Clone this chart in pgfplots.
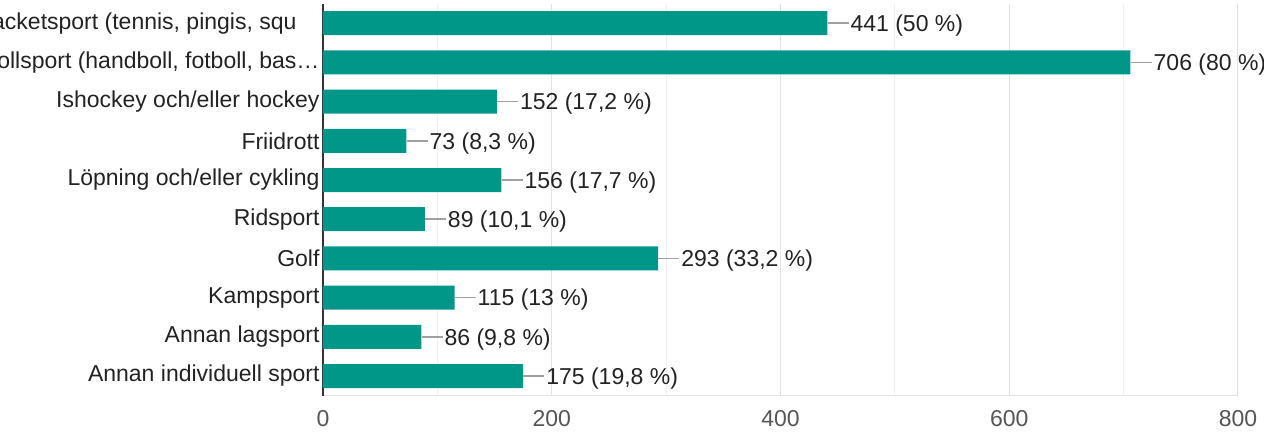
\documentclass[border=0pt]{standalone}
\usepackage{pgfplots}
\pgfplotsset{compat=1.18}
\usepackage{fontspec}
\setmainfont{Liberation Sans}
\definecolor{barteal}{HTML}{009688}
\definecolor{txt}{HTML}{222222}
\definecolor{ticktxt}{HTML}{555555}
\definecolor{conn}{HTML}{A0A0A0}
\definecolor{gridmaj}{HTML}{E2E2E2}
\definecolor{gridmin}{HTML}{F0F0F0}
\definecolor{axdark}{HTML}{333333}
\begin{document}
\begin{tikzpicture}[font=\fontsize{23}{27}\selectfont]
\begin{axis}[
  at={(323pt,45.4pt)}, anchor=south west,
  scale only axis, width=915pt, height=392pt,
  xbar, bar width=24pt,
  xmin=0, xmax=800, ymin=-0.5, ymax=9.5,
  y dir=reverse,
  xtick={0,200,400,600,800},
  minor xtick={100,300,500,700},
  ytick={0,...,9},
  yticklabels={{Racketsport (tennis, pingis, squ\hspace*{23pt}},
    {Bollsport (handboll, fotboll, bas…},
    {Ishockey och/eller hockey},
    {Friidrott},
    {Löpning och/eller cykling},
    {Ridsport},
    {Golf},
    {Kampsport},
    {Annan lagsport},
    {Annan individuell sport}},
  axis lines=left,
  axis line style={-},
  x axis line style={draw=gridmaj, line width=1pt},
  y axis line style={draw=axdark, line width=1.5pt},
  major tick length=0pt, minor tick length=0pt,
  xmajorgrids, xminorgrids,
  major grid style={draw=gridmaj, line width=1pt},
  minor grid style={draw=gridmin, line width=1pt},
  tick label style={font=\fontsize{23}{27}\selectfont},
  yticklabel style={text=txt},
  xticklabel style={text=ticktxt, yshift=-11pt},
  /pgf/number format/assume math mode=true,
  point meta=explicit symbolic,
  nodes near coords={\textcolor{conn}{\rule[7.45pt]{21pt}{1.5pt}}\hspace{2pt}\pgfplotspointmeta},
  every node near coord/.append style={anchor=base west, inner sep=0pt, yshift=-8.2pt, text=txt, font=\fontsize{23}{27}\selectfont},
]
\addplot[fill=barteal, draw=none] coordinates {
  (441,0) [441 (50 \%)]
  (706,1) [706 (80 \%)]
  (152,2) [152 (17,2 \%)]
  (73,3) [73 (8,3 \%)]
  (156,4) [156 (17,7 \%)]
  (89,5) [89 (10,1 \%)]
  (293,6) [293 (33,2 \%)]
  (115,7) [115 (13 \%)]
  (86,8) [86 (9,8 \%)]
  (175,9) [175 (19,8 \%)]
};
\end{axis}
\pgfresetboundingbox
\path[use as bounding box] (0,0) rectangle (1264pt,441pt);
\end{tikzpicture}
\end{document}
